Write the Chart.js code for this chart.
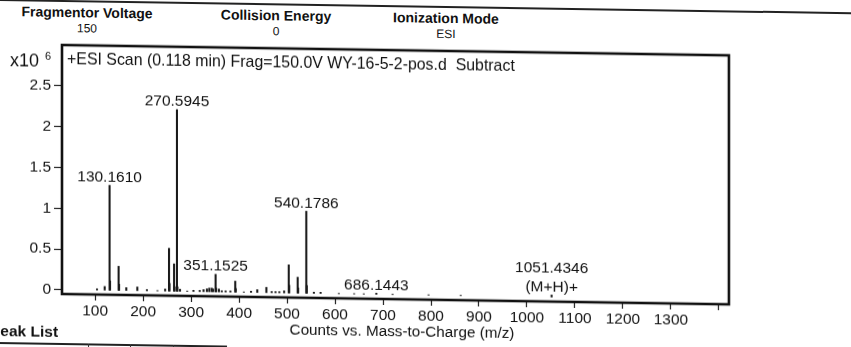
<!DOCTYPE html>
<html>
<head>
<meta charset="utf-8">
<script src="https://cdn.jsdelivr.net/npm/chart.js@4.4.1/dist/chart.umd.min.js"></script>
<style>
  html, body { margin: 0; padding: 0; background: #fff; overflow: hidden; }
  #sheet {
    position: relative; width: 851px; height: 347px;
    transform: skewY(0.89deg); transform-origin: 62px 0;
    font-family: 'Liberation Sans', Arial, sans-serif; color: #111;
  }
  #chart { position: absolute; left: 0; top: 0; }
  .rule { position: absolute; left: -20px; width: 900px; top: 0; height: 2px; background: #222; }
  .hdr { position: absolute; top: 4px; transform: translateX(-50%); text-align: center; white-space: nowrap; }
  .hdr b { display: block; font-size: 14px; line-height: 16px; }
  .hdr span { display: block; font-size: 12px; line-height: 17px; }
  .peaklist { position: absolute; left: -10px; top: 323px; font-weight: bold; font-size: 15.5px; line-height: 18px; }
  .tline { position: absolute; left: 0; top: 343px; width: 227px; height: 2px; background: #222; }
  .tcol { position: absolute; top: 343px; width: 1px; height: 8px; background: #333; }
</style>
</head>
<body>
<div id="sheet">
  <div class="rule"></div>
  <div class="hdr" style="left:87px"><b>Fragmentor Voltage</b><span>150</span></div>
  <div class="hdr" style="left:276px"><b>Collision Energy</b><span>0</span></div>
  <div class="hdr" style="left:446px"><b>Ionization Mode</b><span>ESI</span></div>
  <canvas id="chart" width="851" height="347"></canvas>
  <div class="peaklist">Peak List</div>
  <div class="tline"></div>
  <div class="tcol" style="left:88px"></div>
  <div class="tcol" style="left:130px"></div>
  <div class="tcol" style="left:173px"></div>
</div>
<script>
// Centroided peaks: m/z and abundance (counts x10^6)
const peakMz = [
  104, 120, 130.1610, 131.16, 149.0, 150.0, 165, 188, 208, 230, 246,
  254.1, 255.1, 264.6, 265.6, 270.5945, 271.6, 277, 292, 305, 318, 326,
  333, 338, 343, 346, 351.1525, 352.2, 358, 364, 372, 382, 392.1, 393.1,
  410, 425, 438, 457, 468, 476, 484, 494, 503.6, 504.6, 522.2, 523.2,
  540.1786, 541.2, 556, 570, 608, 640, 660, 686.1443, 720, 795, 862,
  1051.4346
];
const peakIntensity = [
  0.02, 0.05, 1.29, 0.12, 0.30, 0.08, 0.04, 0.05, 0.02, 0.01, 0.03,
  0.53, 0.10, 0.34, 0.06, 2.23, 0.06, 0.03, 0.01, 0.02, 0.02, 0.03,
  0.04, 0.05, 0.05, 0.04, 0.22, 0.05, 0.04, 0.02, 0.02, 0.02, 0.14, 0.05,
  0.01, 0.02, 0.04, 0.07, 0.02, 0.02, 0.02, 0.03, 0.35, 0.10, 0.20, 0.07,
  1.01, 0.10, 0.02, 0.02, 0.01, 0.01, 0.01, 0.02, 0.01, 0.01, 0.01,
  0.03
];

// Annotated peaks and extra annotation lines
const labelMz = [130.1610, 270.5945, 351.1525, 540.1786, 686.1443, 1051.4346];
const labelNote = ['', '', '', '', '', '(M+H)+'];

// Axis ticks
const xTickValues = [100, 200, 300, 400, 500, 600, 700, 800, 900, 1000, 1100, 1200, 1300, 1400];
const xTickLabels = ['100', '200', '300', '400', '500', '600', '700', '800', '900', '1000', '1100', '1200', '1300', ''];
const yTickValues = [0, 0.5, 1, 1.5, 2, 2.5];
const yTickLabels = ['0', '0.5', '1', '1.5', '2', '2.5'];

const scanTitle = '+ESI Scan (0.118 min) Frag=150.0V WY-16-5-2-pos.d  Subtract';
const xAxisTitle = 'Counts vs. Mass-to-Charge (m/z)';

const FONT = "'Liberation Sans', Arial, sans-serif";
const INK = '#111';

// Draws text so that it spans the given width (font size adapted)
function fitText(ctx, text, x, y, width, align) {
  ctx.font = `15px ${FONT}`;
  const size = 15 * width / ctx.measureText(text).width;
  ctx.font = `${size.toFixed(2)}px ${FONT}`;
  ctx.textAlign = align;
  ctx.fillText(text, x, y);
}

const spectrumDecor = {
  id: 'spectrumDecor',
  afterDatasetsDraw(chart) {
    const { ctx, chartArea: a, scales: { x, y } } = chart;
    ctx.save();
    ctx.fillStyle = INK;
    ctx.font = `15.5px ${FONT}`;
    ctx.textAlign = 'center';
    ctx.textBaseline = 'alphabetic';
    labelMz.forEach((mz, k) => {
      const i = peakMz.indexOf(mz);
      const px = x.getPixelForValue(mz);
      const py = y.getPixelForValue(peakIntensity[i]);
      const lines = [mz.toFixed(4)];
      if (labelNote[k]) lines.push(labelNote[k]);
      lines.forEach((t, j) => {
        ctx.fillText(t, px, py - 3.5 - (lines.length - 1 - j) * 19);
      });
    });

    ctx.textBaseline = 'middle';
    // scan description inside the frame
    fitText(ctx, scanTitle, a.left + 5, 60, 448, 'left');

    // abundance multiplier
    fitText(ctx, 'x10', 10, 62, 29, 'left');
    ctx.font = `11px ${FONT}`;
    ctx.fillText('6', 45, 57);

    // x axis title
    fitText(ctx, xAxisTitle, 402, 327, 225, 'center');
    ctx.restore();
  },
  afterDraw(chart) {
    const { ctx, chartArea: a } = chart;
    ctx.save();
    ctx.strokeStyle = INK;
    ctx.lineWidth = 2.6;
    ctx.strokeRect(a.left, a.top, a.right - a.left, a.bottom - a.top);
    ctx.restore();
  }
};

const points = peakMz.map((mz, i) => ({ x: mz, y: peakIntensity[i] }));

new Chart(document.getElementById('chart'), {
  type: 'bar',
  data: {
    datasets: [{
      data: points,
      backgroundColor: '#1a1a1a',
      borderWidth: 0,
      barThickness: 1.4,
      grouped: false
    }]
  },
  options: {
    responsive: false,
    animation: false,
    devicePixelRatio: 1,
    layout: { padding: { left: 0, right: 851 - 729, top: 45, bottom: 0 } },
    plugins: { legend: { display: false }, tooltip: { enabled: false } },
    scales: {
      x: {
        type: 'linear',
        min: 31,
        max: 1421,
        offset: false,
        afterBuildTicks: s => { s.ticks = xTickValues.map(v => ({ value: v })); },
        afterFit: s => { s.height = 347 - 294; },
        ticks: {
          callback: (v, i) => xTickLabels[i],
          color: INK,
          font: { family: FONT, size: 15.5 },
          padding: 1,
          maxRotation: 0,
          autoSkip: false
        },
        grid: { drawOnChartArea: false, drawTicks: true, tickLength: 6, tickColor: '#222', tickWidth: 1.2, offset: false },
        border: { display: false }
      },
      y: {
        min: -0.05,
        max: 3.0,
        afterBuildTicks: s => { s.ticks = yTickValues.map(v => ({ value: v })); },
        afterFit: s => { s.width = 62; },
        ticks: {
          callback: (v, i) => yTickLabels[i],
          color: INK,
          font: { family: FONT, size: 15.5 },
          padding: 3
        },
        grid: { drawOnChartArea: false, drawTicks: true, tickLength: 8, tickColor: '#222', tickWidth: 1.2 },
        border: { display: false }
      }
    }
  },
  plugins: [spectrumDecor]
});
</script>
</body>
</html>
